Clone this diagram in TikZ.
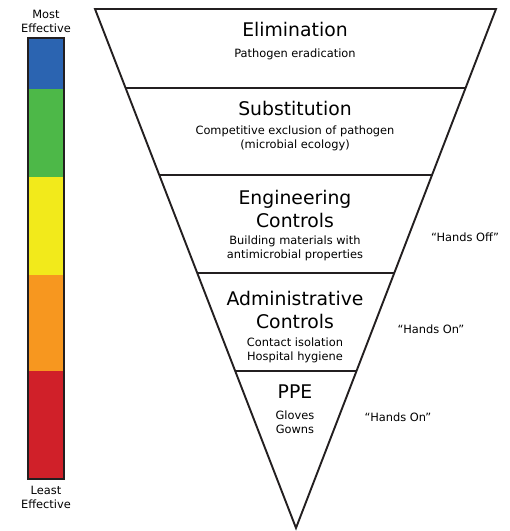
\documentclass[tikz,border=0pt]{standalone}
\usepackage{fontspec}
\setmainfont{DejaVu Sans}
\usetikzlibrary{positioning,calc}
\definecolor{best}{HTML}{2B64B1}
\definecolor{good}{HTML}{4DB848}
\definecolor{fair}{HTML}{F2EA1B}
\definecolor{poor}{HTML}{F7971F}
\definecolor{worst}{HTML}{D02029}
\definecolor{edge}{HTML}{231F20}

\tikzset{
  level/.style={font=\fontsize{18.8}{23}\selectfont, anchor=base, align=center, inner sep=0pt},
  detail/.style={font=\fontsize{11.4}{13.8}\selectfont, anchor=base, align=center, inner sep=0pt},
  tag/.style={font=\fontsize{11.4}{13.8}\selectfont, anchor=base, align=center, inner sep=0pt},
}

\begin{document}
\begin{tikzpicture}[x=1pt, y=-1pt]
\useasboundingbox (0,0) rectangle (510,531);
% colour scale
\fill[best] (28,38) rectangle (64,89);
\fill[good] (28,89) rectangle (64,177);
\fill[fair] (28,177) rectangle (64,275);
\fill[poor] (28,275) rectangle (64,371);
\fill[worst] (28,371) rectangle (64,479);
\draw[edge, line width=1.3pt] (28,38) rectangle (64,479);
% multi-line nodes sit on the baseline of their last line
\node[tag] (most) at (46,32) {Most\\Effective};
\node[tag] (least) at (46,508) {Least\\Effective};

% inverted triangle
\coordinate (tl) at (95,9);
\coordinate (tr) at (496,9);
\coordinate (tip) at (296,528);
\draw[edge, line width=1.9pt] (tl) -- (tr) -- (tip) -- cycle;
\foreach \t in {0.1522,0.3198,0.5087,0.6975}
  \draw[edge, line width=1.9pt] ($(tl)!\t!(tip)$) -- ($(tr)!\t!(tip)$);

\node[level] (elim) at (295,36) {Elimination};
\node[detail] (elimtxt) at (295,57) {Pathogen eradication};
\node[level] (subst) at (295,115) {Substitution};
\node[detail] (substtxt) at (295,148) {Competitive exclusion of pathogen\\(microbial ecology)};
\node[level] (eng) at (295,227) {Engineering\\Controls};
\node[detail] (engtxt) at (295,258) {Building materials with\\antimicrobial properties};
\node[level] (admin) at (295,328) {Administrative\\Controls};
\node[detail] (admintxt) at (295,360) {Contact isolation\\Hospital hygiene};
\node[level] (ppe) at (295,398) {PPE};
\node[detail] (ppetxt) at (295,433) {Gloves\\Gowns};

\node[tag] (off) at (465,241) {“Hands Off”};
\node[tag] (on) at (431,333) {“Hands On”};
\node[tag] (onppe) at (398,421) {“Hands On”};
\end{tikzpicture}
\end{document}
